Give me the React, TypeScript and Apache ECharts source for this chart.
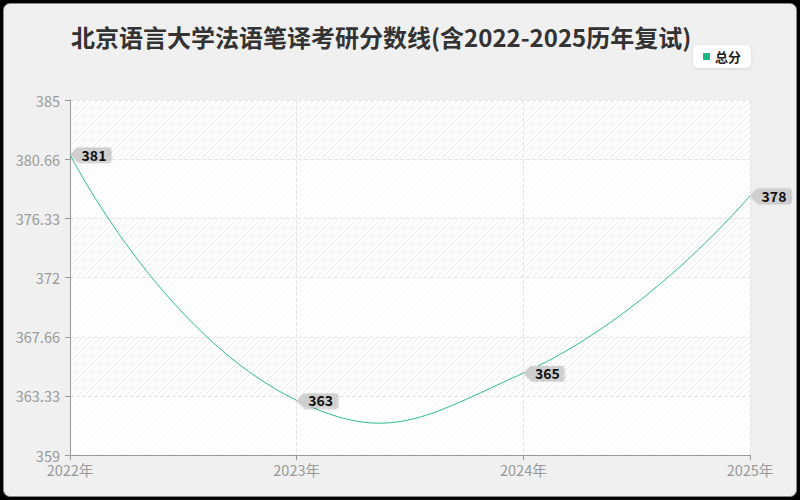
import { useEffect, useRef } from "react";
import * as echarts from "echarts";

const years = ["2022年", "2023年", "2024年", "2025年"];
const scores = [381, 363, 365, 378];
const yTicks = [359, 363.33, 367.66, 372, 376.33, 380.66, 385];
const seriesName = "总分";
const title = "北京语言大学法语笔译考研分数线(含2022-2025历年复试)";

const FONT = '"Noto Sans CJK SC", "Noto Sans", sans-serif';
const LINE = "#2dbd92";

function hatch(line: string) {
  const c = document.createElement("canvas");
  c.width = 6;
  c.height = 6;
  const ctx = c.getContext("2d")!;
  ctx.fillStyle = "#ffffff";
  ctx.fillRect(0, 0, 6, 6);
  ctx.strokeStyle = line;
  ctx.lineWidth = 1;
  ctx.beginPath();
  ctx.moveTo(-1, 7);
  ctx.lineTo(7, -1);
  ctx.moveTo(-4, 4);
  ctx.lineTo(4, -4);
  ctx.moveTo(2, 10);
  ctx.lineTo(10, 2);
  ctx.stroke();
  return { image: c, repeat: "repeat" as const };
}

export default function App() {
  const elRef = useRef<HTMLDivElement>(null);

  useEffect(() => {
    if (!elRef.current) return;
    const chart = echarts.init(elRef.current, null, { renderer: "svg" });
    chart.setOption({
      animation: false,
      backgroundColor: "transparent",
      textStyle: { fontFamily: FONT },
      title: {
        text: title,
        left: 66,
        top: 19,
        textStyle: { fontSize: 24, fontWeight: "bold", color: "#333", fontFamily: FONT },
      },
      legend: {
        data: [seriesName],
        right: 49,
        top: 45,
        backgroundColor: "#fff",
        borderRadius: 5,
        padding: [5, 10, 5, 10],
        itemWidth: 7,
        itemHeight: 7,
        itemGap: 6,
        icon: "rect",
        shadowColor: "rgba(0,0,0,0.12)",
        shadowBlur: 3,
        shadowOffsetY: 1,
        textStyle: { fontSize: 13, fontWeight: "bold", color: "#222", fontFamily: FONT },
      },
      grid: { left: 70, right: 50, top: 100, bottom: 45 },
      xAxis: {
        type: "category",
        data: years,
        boundaryGap: false,
        axisLine: { lineStyle: { color: "#999" } },
        axisTick: { show: true, length: 5, lineStyle: { color: "#999" } },
        axisLabel: { color: "#999", fontSize: 14.5, margin: 7, fontFamily: FONT },
        splitLine: { show: true, lineStyle: { color: "#e3e3e3", type: "dashed" } },
      },
      yAxis: {
        type: "value",
        min: 359,
        max: 385,
        axisLine: { show: true, lineStyle: { color: "#999" } },
        axisTick: { show: true, length: 5, customValues: yTicks, lineStyle: { color: "#999" } },
        axisLabel: { color: "#999", fontSize: 14.5, margin: 10, customValues: yTicks, fontFamily: FONT },
        splitLine: { show: true, lineStyle: { color: "#e6e6e6", type: "dashed" } },
        splitArea: { show: true, areaStyle: { color: [hatch("#f7f7f7"), hatch("#ececec")] } },
      },
      series: [
        {
          name: seriesName,
          type: "line",
          data: scores,
          showSymbol: false,
          color: "#1db584",
          lineStyle: { opacity: 0 },
          z: 3,
          markPoint: {
            symbol: "path://M0,7 L7,0 L40,0 L40,14 L7,14 Z",
            symbolSize: [40, 14],
            symbolOffset: [20, 0],
            symbolKeepAspect: false,
            itemStyle: {
              color: "#cfcfcf",
              shadowColor: "rgba(0,0,0,0.3)",
              shadowBlur: 2,
              shadowOffsetX: 1,
              shadowOffsetY: 1,
            },
            label: {
              show: true,
              position: "inside",
              offset: [4, 0],
              color: "#111",
              fontSize: 14,
              fontWeight: "bold",
              fontFamily: FONT,
              formatter: "{c}",
            },
            data: years.map((y, i) => ({ coord: [y, scores[i]], value: scores[i] })),
          },
        },
        {
          // curve drawn with zrender's bezier smoothing (overshoots between points)
          name: seriesName,
          type: "custom",
          color: "#1db584",
          z: 2,
          data: scores.map((v, i) => [i, v]),
          encode: { x: 0, y: 1 },
          renderItem: (params: any, api: any) => {
            if (params.dataIndex !== 0) return null;
            const pts = scores.map((v, i) => api.coord([i, v]));
            return {
              type: "polyline",
              shape: { points: pts, smooth: 0.5 },
              style: { stroke: LINE, lineWidth: 1, fill: null },
            };
          },
        },
      ],
    });
    return () => chart.dispose();
  }, []);

  return (
    <div style={{ position: "fixed", left: 0, top: 0, width: 800, height: 500, background: "#000" }}>
      <div
        style={{
          position: "absolute",
          left: 3,
          top: 3,
          width: 794,
          height: 494,
          boxSizing: "border-box",
          border: "1px solid #8a8a8a",
          borderRadius: 7,
          background: "#f0f0f0",
        }}
      />
      <div ref={elRef} style={{ position: "absolute", left: 0, top: 0, width: 800, height: 500 }} />
    </div>
  );
}
